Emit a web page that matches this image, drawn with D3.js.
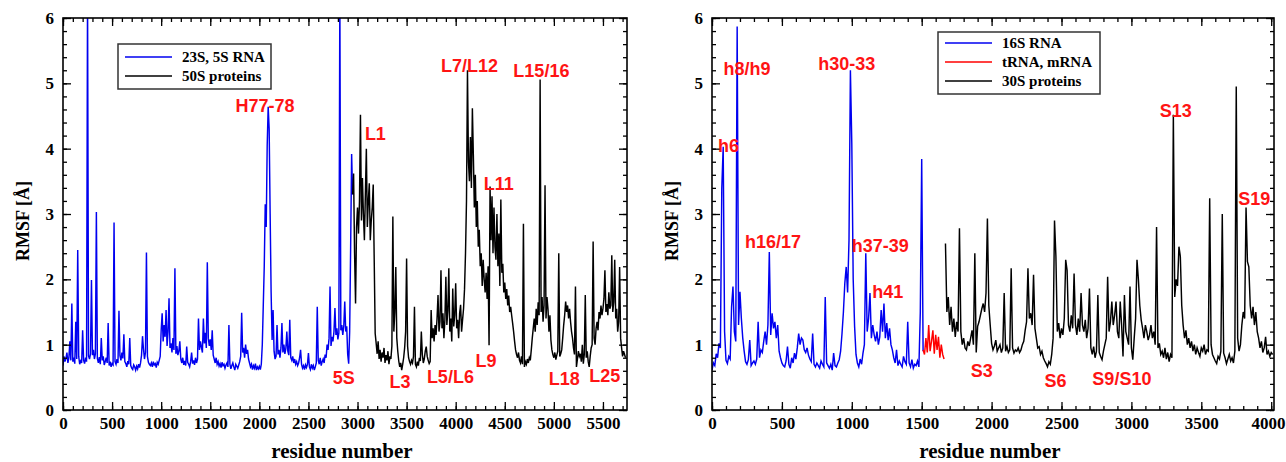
<!DOCTYPE html>
<html>
<head>
<meta charset="utf-8">
<script src="https://cdn.jsdelivr.net/npm/d3@7"></script>
<style>
  html, body { margin: 0; padding: 0; background: #ffffff; }
  svg { display: block; }
</style>
</head>
<body>
<svg id="chart" width="1286" height="462"></svg>
<script>
// RMSF per residue, sampled every 10 residues.
const STEP = 10;

// ---- 50S subunit ----
const rna23S5SStart = 0;
const rna23S5S = [
  0.68,0.82,0.74,0.79,0.88,0.72,0.80,1.05,0.76,1.63,
  0.74,0.80,0.71,1.35,0.78,2.45,0.82,0.70,0.75,0.72,
  1.22,0.76,0.71,0.80,0.74,6.40,0.83,0.78,0.86,1.99,
  0.84,0.92,0.78,0.86,3.03,0.79,0.72,0.81,0.70,1.10,
  0.76,0.82,0.69,0.74,0.80,0.72,1.33,0.68,0.74,0.66,
  0.71,0.69,2.87,0.74,0.70,0.78,0.72,1.52,0.83,0.76,
  0.88,0.79,1.16,0.74,0.71,0.66,0.75,0.70,1.10,0.68,
  0.64,0.62,0.69,0.66,0.61,0.67,0.63,0.70,0.65,0.72,
  0.84,1.13,0.93,0.78,0.88,2.41,0.82,0.73,0.70,0.68,
  0.72,0.66,0.74,0.69,0.71,0.65,0.73,0.70,0.76,0.82,
  1.22,1.48,1.05,1.30,1.12,1.53,0.98,1.20,1.71,0.95,
  1.02,0.88,1.10,0.92,2.17,0.86,0.98,0.84,0.90,1.05,
  0.78,0.72,0.80,0.69,0.75,0.68,0.97,0.73,0.70,0.66,
  0.74,0.88,0.71,0.76,0.69,0.80,0.72,0.78,1.40,0.92,
  1.05,0.96,0.88,1.40,1.02,1.18,0.95,2.26,1.10,0.98,
  1.08,0.92,1.22,0.84,0.78,0.72,0.80,0.70,0.74,0.67,
  0.71,0.65,0.73,0.68,0.70,0.64,0.69,0.72,0.66,1.30,
  0.70,0.63,0.68,0.72,0.66,0.61,0.70,0.67,0.64,0.69,
  0.74,0.82,1.49,0.88,0.95,0.80,1.00,0.86,0.92,0.78,
  0.72,0.66,0.70,0.62,0.68,0.64,0.71,0.61,0.66,0.63,
  0.67,0.62,0.70,1.00,1.60,2.20,3.15,2.80,4.05,4.64,
  4.30,3.00,1.80,1.07,1.53,0.90,0.78,0.82,1.30,0.85,
  0.92,0.80,0.95,1.33,0.88,1.00,0.86,0.94,1.20,0.90,
  0.84,1.38,0.80,0.76,0.82,0.72,0.78,0.70,0.74,0.68,
  0.72,0.80,0.92,0.70,0.64,0.68,0.62,0.69,0.65,0.70,
  0.87,0.66,0.62,0.70,0.64,0.68,0.61,0.66,0.72,1.58,
  0.76,0.70,0.80,0.68,0.74,0.78,0.72,0.85,0.80,1.00,
  0.92,1.10,1.89,0.98,1.12,1.05,1.20,1.56,1.15,1.25,
  1.08,1.18,6.40,1.22,1.30,1.15,1.28,1.66,1.20,1.28,
  0.85,0.71,1.20,2.50,3.92,3.30
];

const prot50SStart = 2950;
const prot50S = [
  3.30,3.62,2.40,1.63,2.80,
  3.10,2.70,3.20,4.52,2.90,3.55,3.00,2.60,3.30,4.00,
  2.80,3.20,3.47,2.60,2.90,3.10,3.45,2.30,1.17,1.02,
  0.86,1.05,0.78,0.92,0.74,0.88,0.80,0.95,0.72,0.84,
  0.76,0.90,0.70,0.82,0.78,0.98,2.96,1.20,1.50,2.19,
  1.10,0.90,0.75,0.66,0.72,0.61,0.70,0.80,0.95,1.20,
  2.32,0.98,0.80,0.74,0.70,0.76,0.72,0.82,1.58,0.70,
  0.66,0.74,0.68,0.80,0.75,1.20,0.85,0.72,0.78,0.90,
  0.97,0.82,0.76,0.71,0.74,1.53,1.10,1.25,1.05,1.30,
  1.15,1.40,1.76,1.20,1.35,2.14,1.25,1.48,1.10,1.38,
  2.04,1.30,1.52,2.17,1.20,1.40,1.05,1.86,1.28,1.45,
  1.94,1.25,1.38,1.10,1.48,1.61,1.20,1.38,1.55,1.85,
  2.40,3.20,5.20,3.80,3.50,4.18,3.40,4.62,3.90,3.10,
  3.60,2.80,3.20,2.50,2.76,2.20,2.40,1.90,2.30,2.00,
  1.80,2.10,1.70,2.20,0.99,3.42,2.60,3.27,2.40,3.10,
  2.50,2.30,3.00,2.20,2.70,1.90,3.22,2.10,2.24,1.80,
  1.95,1.70,1.85,1.60,1.75,1.50,1.58,1.45,1.33,1.20,
  1.05,0.92,0.85,0.80,0.88,0.76,0.72,0.82,0.70,2.85,
  0.66,0.74,0.70,0.78,0.72,0.80,0.76,0.92,1.10,1.25,
  1.40,1.20,1.55,1.30,1.65,1.45,5.06,1.50,1.73,1.35,
  1.60,3.44,1.40,1.73,1.55,1.20,1.45,1.07,0.92,0.85,
  0.80,0.88,0.77,0.84,0.90,2.40,0.82,0.86,0.92,1.10,
  1.30,1.45,1.66,1.50,1.60,1.40,1.55,1.35,1.20,1.10,
  0.95,0.85,1.89,0.66,0.78,0.90,0.82,0.86,0.74,1.00,
  0.71,0.85,1.76,0.80,0.90,0.74,0.66,0.82,0.95,1.00,
  2.58,1.10,1.00,1.25,1.35,1.22,1.50,1.40,1.60,1.45,
  1.55,1.70,2.14,1.50,1.62,1.45,1.80,1.55,1.60,2.37,
  1.50,1.65,2.30,1.40,1.55,1.20,1.35,2.19,1.10,0.95,
  0.82,0.90,0.85,0.80
];

// ---- 30S subunit ----
const rna16SStart = 0;
const rna16S = [
  0.61,0.72,0.68,0.86,0.80,1.02,0.95,3.39,4.03,1.20,
  0.76,0.71,0.82,0.78,1.58,1.89,1.20,1.05,5.87,1.30,
  1.81,1.40,1.10,0.90,0.74,0.70,0.77,1.07,0.68,0.72,
  0.75,0.70,0.78,1.35,0.80,0.92,0.88,1.05,1.20,1.00,
  1.30,2.42,1.15,1.48,1.25,1.35,1.10,1.30,0.90,0.80,
  0.72,0.68,0.66,0.75,0.97,0.70,0.64,0.80,0.72,0.87,
  0.78,0.95,1.17,1.00,1.10,1.07,0.92,0.88,0.95,0.84,
  0.78,0.74,1.17,0.70,0.66,0.72,0.68,0.64,0.75,0.70,
  0.66,1.73,0.72,0.68,0.64,0.70,0.61,0.87,0.68,0.66,
  0.72,0.77,0.90,1.17,1.50,1.94,2.19,1.80,2.60,5.20,
  4.08,2.00,1.28,0.85,0.72,0.66,0.78,0.70,0.87,1.00,
  2.40,1.20,1.40,1.79,1.10,1.30,1.15,1.05,1.20,1.00,
  1.12,1.53,1.20,1.63,1.10,1.33,1.07,1.25,1.00,0.92,
  0.80,0.72,0.92,0.68,0.75,0.70,0.66,0.82,0.74,0.70,
  1.35,0.72,0.66,0.77,0.64,0.70,0.68,0.75,0.66,1.50,
  3.84,0.90
];

const trnaMrnaStart = 1510;
const trnaMrna = [
  0.92,0.85,1.10,0.88,1.30,0.90,1.05,1.22,0.86,1.15,
  0.92,1.12,0.80,1.00,0.85,0.78
];

const prot30SStart = 1670;
const prot30S = [
  2.55,1.50,1.73,1.30,1.58,1.20,1.40,1.12,1.35,1.20,
  2.78,1.20,1.00,1.10,0.95,0.92,1.05,0.98,1.10,1.22,
  1.00,2.40,0.88,1.28,1.35,1.45,1.55,1.63,1.50,1.79,
  2.93,1.60,1.30,1.02,0.92,0.98,1.07,0.90,0.95,1.00,
  0.88,0.95,1.79,0.90,0.97,0.88,0.92,2.17,0.95,0.87,
  0.92,0.90,0.95,0.88,0.92,1.00,1.05,1.22,1.35,2.17,
  1.40,1.48,1.30,2.07,1.25,1.10,0.95,0.97,0.85,0.90,
  0.80,0.75,0.71,0.66,0.74,0.70,0.85,1.10,2.90,2.35,
  1.20,1.33,1.10,1.25,1.15,1.40,2.30,2.14,1.30,1.20,
  1.45,1.25,2.09,1.30,1.15,1.40,1.20,1.79,1.30,1.20,
  1.38,1.10,1.25,1.86,0.95,0.85,0.97,0.80,0.90,1.76,
  0.88,0.82,0.77,0.90,1.00,1.10,2.04,1.20,1.35,1.66,
  1.30,1.45,1.66,1.20,1.10,1.66,1.30,0.82,1.76,1.20,
  1.10,1.00,1.89,0.95,0.77,1.10,1.40,2.30,2.00,1.60,
  1.38,1.25,1.10,1.30,1.20,1.07,1.15,1.30,1.10,1.20,
  1.00,2.80,0.95,1.02,0.85,0.90,0.80,0.95,0.78,0.88,
  0.74,0.85,0.80,4.52,1.73,2.00,1.90,2.50,2.35,1.60,
  1.30,1.10,1.22,1.00,1.10,0.95,1.05,0.90,1.00,0.85,
  0.95,0.88,0.82,0.95,0.90,1.00,0.85,0.92,0.90,3.24,
  1.00,0.85,0.80,0.75,0.71,0.82,0.78,0.90,3.00,0.87,
  0.80,0.71,0.78,0.85,0.75,0.80,0.72,0.90,4.95,1.10,
  0.90,1.00,1.30,1.50,1.40,3.10,2.27,2.19,1.60,1.40,
  1.58,1.30,1.50,1.20,1.10,0.95,1.05,0.88,0.95,1.12,
  0.85,0.90,0.82,0.88,0.85
];

// Axis ticks
const yTicks = [0, 1, 2, 3, 4, 5, 6];
const leftXTicks = [0,500,1000,1500,2000,2500,3000,3500,4000,4500,5000,5500];
const rightXTicks = [0,500,1000,1500,2000,2500,3000,3500,4000];

// Region labels: [text, residue, RMSF]
const leftLabels = [
  ["H77-78", 2057, 4.56], ["5S", 2861, 0.40], ["L1", 3182, 4.13],
  ["L3", 3432, 0.34], ["L5/L6", 3946, 0.41], ["L9", 4308, 0.66],
  ["L7/L12", 4140, 5.17], ["L15/16", 4873, 5.10], ["L11", 4440, 3.37],
  ["L18", 5107, 0.38], ["L25", 5519, 0.43]
];
const rightLabels = [
  ["h8/h9", 250, 5.13], ["h6", 118, 3.95], ["h30-33", 964, 5.20],
  ["h16/17", 436, 2.48], ["h37-39", 1204, 2.42], ["h41", 1257, 1.71],
  ["S13", 3318, 4.48], ["S19", 3879, 3.14], ["S3", 1929, 0.51],
  ["S6", 2457, 0.35], ["S9/S10", 2932, 0.38]
];

const leftLegend = [["23S, 5S RNA", "#0000f0"], ["50S proteins", "#000000"]];
const rightLegend = [["16S RNA", "#0000f0"], ["tRNA, mRNA", "#ff0000"], ["30S proteins", "#000000"]];

const BLUE = "#0000f0", RED = "#ff0000", BLACK = "#000000", LABEL_RED = "#ff1414";
const SERIF = "'Liberation Serif','Times New Roman',serif";
const SANS = "'Liberation Sans',Arial,sans-serif";

const svg = d3.select("#chart");

function toPoints(start, values) {
  return values.map((v, i) => ({ r: start + i * STEP, v }));
}

function panel(opts) {
  const { x0, x1, y0, y1, xMax, xTicks, series, labels, legend, id } = opts;
  const x = d3.scaleLinear().domain([0, xMax]).range([x0, x1]);
  const y = d3.scaleLinear().domain([0, 6]).range([y1, y0]);
  const g = svg.append("g");

  g.append("clipPath").attr("id", id)
    .append("rect").attr("x", x0).attr("y", y0).attr("width", x1 - x0).attr("height", y1 - y0);

  const line = d3.line().x(d => x(d.r)).y(d => y(d.v));
  const dataG = g.append("g").attr("clip-path", `url(#${id})`);
  series.forEach(s => {
    dataG.append("path")
      .datum(toPoints(s.start, s.values))
      .attr("d", line)
      .attr("fill", "none")
      .attr("stroke", s.color)
      .attr("stroke-width", 1.45)
      .attr("stroke-linejoin", "miter");
  });

  const minorX = d3.range(0, xMax + 1, 100);
  const minorY = d3.range(0, 6.01, 0.2);

  function styleAxis(sel) {
    sel.select(".domain").remove();
    sel.selectAll(".tick line").attr("stroke", "#000").attr("stroke-width", 1.3);
    sel.selectAll("text")
      .attr("fill", "#000")
      .style("font-family", SERIF)
      .style("font-weight", "bold")
      .style("font-size", "17px");
  }

  // bottom
  g.append("g").attr("transform", `translate(0,${y1})`)
    .call(d3.axisBottom(x).tickValues(minorX).tickSize(-4).tickFormat(""))
    .call(styleAxis);
  const bottomMajor = g.append("g").attr("transform", `translate(0,${y1})`)
    .call(d3.axisBottom(x).tickValues(xTicks).tickSize(-8).tickPadding(7).tickFormat(d3.format("d")))
    .call(styleAxis);
  // keep a label that sits on the right frame inside the page
  bottomMajor.selectAll(".tick text")
    .attr("dx", d => (x(d) + 17 > 1285 ? 1285 - 17 - x(d) : 0));
  // top
  g.append("g").attr("transform", `translate(0,${y0})`)
    .call(d3.axisTop(x).tickValues(minorX).tickSize(-4).tickFormat(""))
    .call(styleAxis);
  g.append("g").attr("transform", `translate(0,${y0})`)
    .call(d3.axisTop(x).tickValues(xTicks).tickSize(-8).tickFormat(""))
    .call(styleAxis);
  // left
  g.append("g").attr("transform", `translate(${x0},0)`)
    .call(d3.axisLeft(y).tickValues(minorY).tickSize(-4).tickFormat(""))
    .call(styleAxis);
  g.append("g").attr("transform", `translate(${x0},0)`)
    .call(d3.axisLeft(y).tickValues(yTicks).tickSize(-8).tickPadding(9).tickFormat(d3.format("d")))
    .call(styleAxis);
  // right
  g.append("g").attr("transform", `translate(${x1},0)`)
    .call(d3.axisRight(y).tickValues(minorY).tickSize(-4).tickFormat(""))
    .call(styleAxis);
  g.append("g").attr("transform", `translate(${x1},0)`)
    .call(d3.axisRight(y).tickValues(yTicks).tickSize(-8).tickFormat(""))
    .call(styleAxis);

  // frame
  g.append("rect")
    .attr("x", x0).attr("y", y0).attr("width", x1 - x0).attr("height", y1 - y0)
    .attr("fill", "none").attr("stroke", "#000").attr("stroke-width", 1.6);

  // axis titles
  g.append("text")
    .attr("x", (x0 + x1) / 2 - 3).attr("y", 458)
    .attr("text-anchor", "middle")
    .style("font-family", SERIF).style("font-weight", "bold").style("font-size", "21px")
    .text("residue number");
  g.append("text")
    .attr("transform", `translate(${x0 - 34},${(y0 + y1) / 2 + 7}) rotate(-90)`)
    .attr("text-anchor", "middle")
    .style("font-family", SERIF).style("font-weight", "bold").style("font-size", "18px")
    .text("RMSF [Å]");

  // region labels
  g.selectAll("text.region").data(labels).enter().append("text")
    .attr("class", "region")
    .attr("x", d => x(d[1])).attr("y", d => y(d[2]))
    .attr("text-anchor", "middle")
    .attr("fill", LABEL_RED)
    .style("font-family", SANS).style("font-weight", "bold").style("font-size", "18px")
    .text(d => d[0]);

  // legend
  const lg = g.append("g");
  lg.append("rect")
    .attr("x", legend.x).attr("y", legend.y).attr("width", legend.w).attr("height", legend.h)
    .attr("fill", "#fff").attr("stroke", "#333").attr("stroke-width", 1.5);
  legend.items.forEach((it, i) => {
    const yy = legend.y + legend.first + i * legend.gap;
    lg.append("line")
      .attr("x1", legend.x + 7).attr("x2", legend.x + 54)
      .attr("y1", yy).attr("y2", yy)
      .attr("stroke", it[1]).attr("stroke-width", 1.5);
    lg.append("text")
      .attr("x", legend.x + 64).attr("y", yy + 5)
      .style("font-family", SERIF).style("font-weight", "bold").style("font-size", "15px")
      .text(it[0]);
  });
}

panel({
  id: "clipL", x0: 63, x1: 627, y0: 18, y1: 410, xMax: 5745, xTicks: leftXTicks,
  series: [
    { start: rna23S5SStart, values: rna23S5S, color: BLUE },
    { start: prot50SStart, values: prot50S, color: BLACK }
  ],
  labels: leftLabels,
  legend: { x: 118, y: 44, w: 153, h: 45, first: 13, gap: 19, items: leftLegend }
});

panel({
  id: "clipR", x0: 712, x1: 1274, y0: 18, y1: 410, xMax: 4020, xTicks: rightXTicks,
  series: [
    { start: rna16SStart, values: rna16S, color: BLUE },
    { start: trnaMrnaStart, values: trnaMrna, color: RED },
    { start: prot30SStart, values: prot30S, color: BLACK }
  ],
  labels: rightLabels,
  legend: { x: 938, y: 32, w: 162, h: 62, first: 11, gap: 19, items: rightLegend }
});
</script>
</body>
</html>
